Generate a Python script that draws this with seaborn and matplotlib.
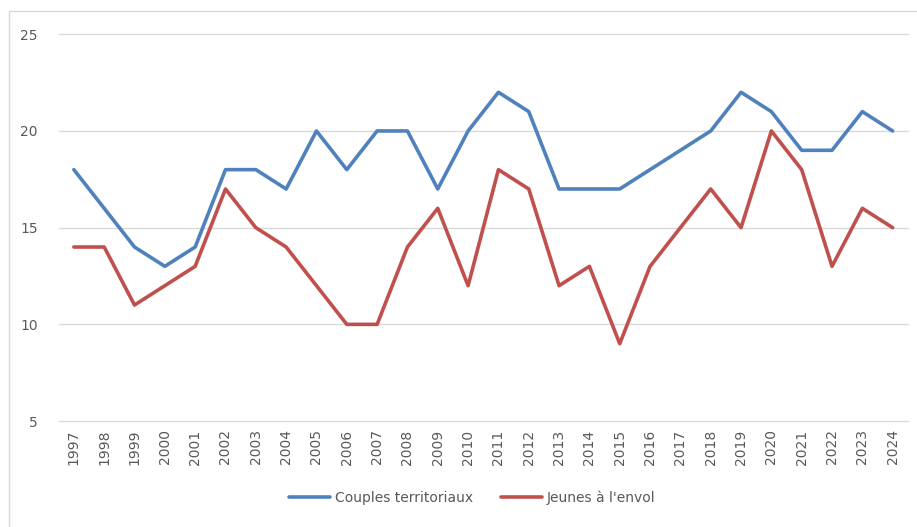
import numpy as np
import pandas as pd
import matplotlib.pyplot as plt
import seaborn as sns
from matplotlib.patches import Rectangle

years = [str(y) for y in range(1997, 2025)]
couples = [18, 16, 14, 13, 14, 18, 18, 17, 20, 18, 20, 20, 17, 20,
           22, 21, 17, 17, 17, 18, 19, 20, 22, 21, 19, 19, 21, 20]
jeunes = [14, 14, 11, 12, 13, 17, 15, 14, 12, 10, 10, 14, 16, 12,
          18, 17, 12, 13, 9, 13, 15, 17, 15, 20, 18, 13, 16, 15]
series_names = ['Couples territoriaux', "Jeunes à l'envol"]
colors = ['#4f81bd', '#c0504d']

df = pd.DataFrame({
    'pos': list(range(len(years))) * 2,
    'value': couples + jeunes,
    'serie': [series_names[0]] * len(years) + [series_names[1]] * len(years),
})

sns.set_style('white')
plt.rcParams['font.family'] = ['DejaVu Sans']

fig = plt.figure(figsize=(9.17, 5.27), dpi=100)
ax = fig.add_axes([0.064, 0.201, 0.926, 0.734])

# outer chart frame
fig.patches.append(Rectangle((9 / 917, -0.01), 1.0, 1 - 11 / 527 + 0.01,
                             transform=fig.transFigure, fill=False,
                             edgecolor='#d9d9d9', linewidth=1))

sns.lineplot(data=df, x='pos', y='value', hue='serie', palette=colors,
             linewidth=2.6, ax=ax, legend=False)

ax.set_xlim(-0.5, len(years) - 0.5)
ax.set_ylim(5, 25)
ax.set_yticks([5, 10, 15, 20, 25])
ax.set_xticks(range(len(years)))
ax.set_xticklabels(years, rotation=90)
ax.yaxis.grid(True, color='#d9d9d9', linewidth=1)
for gl in ax.get_ygridlines():
    gl.set_clip_on(False)
ax.set_axisbelow(True)
for s in ax.spines.values():
    s.set_visible(False)
ax.tick_params(axis='both', length=0, labelsize=10, labelcolor='#595959')
ax.tick_params(axis='y', pad=15)
ax.tick_params(axis='x', pad=6)
ax.set_xlabel('')
ax.set_ylabel('')

handles = [plt.Line2D([], [], color=c, linewidth=2.6) for c in colors]
fig.legend(handles, series_names, loc='center', bbox_to_anchor=(0.515, 0.055),
           ncol=2, frameon=False, fontsize=10, handlelength=2.95,
           handletextpad=0.35, columnspacing=2.0, labelcolor='#595959')

fig.savefig('out.png', dpi=100)
